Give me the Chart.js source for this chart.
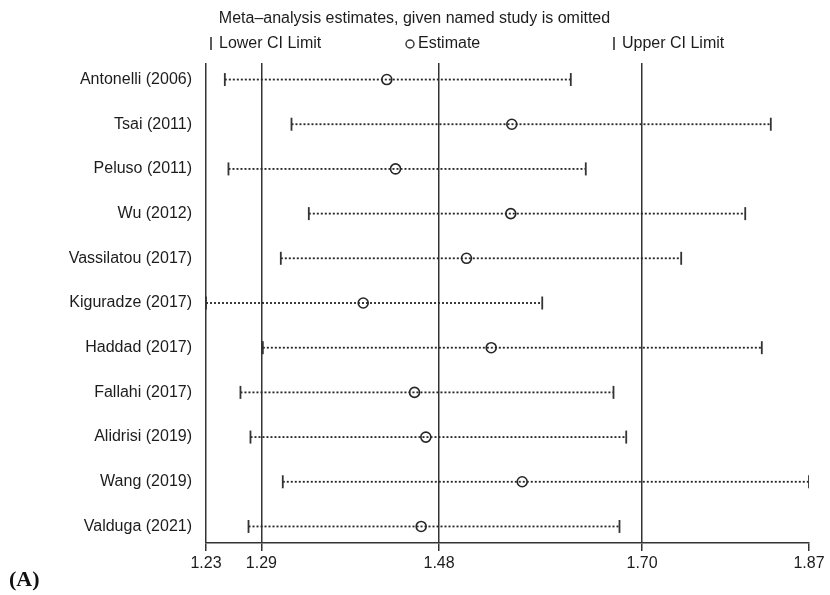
<!DOCTYPE html>
<html>
<head>
<meta charset="utf-8">
<script src="https://cdn.jsdelivr.net/npm/chart.js@4.4.1/dist/chart.umd.min.js"></script>
<style>
  html, body { margin: 0; padding: 0; background: #fff; }
  canvas { display: block; }
</style>
</head>
<body>
<canvas id="c" width="830" height="595"></canvas>
<script>
// Influence analysis: pooled estimate and CI when each study is left out
const studies = [
  'Antonelli (2006)', 'Tsai (2011)', 'Peluso (2011)', 'Wu (2012)',
  'Vassilatou (2017)', 'Kiguradze (2017)', 'Haddad (2017)', 'Fallahi (2017)',
  'Alidrisi (2019)', 'Wang (2019)', 'Valduga (2021)'
];
const lowerCI  = [1.2506, 1.3218, 1.2545, 1.3403, 1.3104, 1.2305, 1.2912, 1.2673, 1.2780, 1.3125, 1.2759];
const estimate = [1.4236, 1.5571, 1.4329, 1.5560, 1.5087, 1.3984, 1.5351, 1.4532, 1.4653, 1.5682, 1.4603];
const upperCI  = [1.6201, 1.8337, 1.6361, 1.8064, 1.7380, 1.5896, 1.8241, 1.6657, 1.6793, 1.8745, 1.6721];

// Axis ticks: smallest lower limit, overall lower limit, overall estimate,
// overall upper limit, largest upper limit
const tickValues = [1.2305, 1.2897, 1.4794, 1.6962, 1.8745];

const titleText = 'Meta\u2013analysis estimates, given named study is omitted';
const panelTag = '(A)';

const INK = '#1c1c1c';
const LINE = '#333333';
const FONT = 'Liberation Sans, Arial, sans-serif';

const ciDatasets = studies.map((s, i) => ({
  label: s,
  data: [{x: lowerCI[i], y: i}, {x: upperCI[i], y: i}],
  showLine: true,
  borderColor: '#262626',
  borderWidth: 1.8,
  borderDash: [2, 2],
  pointRadius: 0,
  order: 5
}));

const markDatasets = [
  {
    label: 'Lower CI Limit',
    data: lowerCI.map((v, i) => ({x: v, y: i})),
    pointStyle: 'line', rotation: 90, pointRadius: 6.5,
    borderColor: LINE, borderWidth: 1.8, order: 1
  },
  {
    label: 'Estimate',
    data: estimate.map((v, i) => ({x: v, y: i})),
    pointStyle: 'circle', pointRadius: 5,
    borderColor: '#262626', borderWidth: 1.6,
    backgroundColor: 'rgba(0,0,0,0)', order: 1
  },
  {
    label: 'Upper CI Limit',
    data: upperCI.map((v, i) => ({x: v, y: i})),
    pointStyle: 'line', rotation: 90, pointRadius: 6.5,
    borderColor: LINE, borderWidth: 1.8, order: 1
  }
];

// Title, symbol key and panel tag
const annotations = {
  id: 'annotations',
  afterDraw(chart) {
    const ctx = chart.ctx;
    ctx.save();
    ctx.fillStyle = INK;
    ctx.strokeStyle = LINE;
    ctx.font = '16px ' + FONT;
    ctx.textBaseline = 'middle';
    ctx.textAlign = 'center';
    ctx.fillText(titleText, 414.5, 19);

    const keyY = 44;
    const [lo, est, up] = markDatasets.map(d => d.label);
    ctx.textAlign = 'left';
    ctx.lineWidth = 1.6;
    // lower limit key
    ctx.beginPath(); ctx.moveTo(211, keyY - 7); ctx.lineTo(211, keyY + 6); ctx.stroke();
    ctx.fillText(lo, 219, keyY);
    // estimate key
    ctx.lineWidth = 1.4;
    ctx.beginPath(); ctx.arc(410, keyY, 4, 0, Math.PI * 2); ctx.stroke();
    ctx.fillText(est, 418, keyY);
    // upper limit key
    ctx.lineWidth = 1.6;
    ctx.beginPath(); ctx.moveTo(614, keyY - 7); ctx.lineTo(614, keyY + 6); ctx.stroke();
    ctx.fillText(up, 622, keyY);

    ctx.font = 'bold 22px Liberation Serif, Times New Roman, serif';
    ctx.fillStyle = '#111';
    ctx.fillText(panelTag, 9, 580);
    ctx.restore();
  }
};

new Chart(document.getElementById('c'), {
  type: 'scatter',
  data: { datasets: [...ciDatasets, ...markDatasets] },
  options: {
    responsive: false,
    animation: false,
    devicePixelRatio: 1,
    layout: { padding: { top: 63, right: 21, bottom: 0, left: 0 } },
    plugins: {
      legend: { display: false },
      tooltip: { enabled: false },
      title: { display: false }
    },
    scales: {
      x: {
        type: 'linear',
        min: tickValues[0],
        max: tickValues[tickValues.length - 1],
        afterBuildTicks: s => { s.ticks = tickValues.map(v => ({value: v})); },
        afterFit: s => { s.height = 52; },
        ticks: {
          autoSkip: false, maxRotation: 0, padding: 3,
          color: INK, font: { family: FONT, size: 16 },
          callback: v => Number(v).toFixed(2)
        },
        grid: {
          color: c => (c.index === tickValues.length - 1 ? 'rgba(0,0,0,0)' : LINE),
          tickColor: LINE,
          lineWidth: 1.5,
          tickLength: 8
        },
        border: { display: true, color: LINE, width: 1.5 }
      },
      y: {
        type: 'linear',
        reverse: true,
        min: -0.37,
        max: 10.37,
        afterBuildTicks: s => { s.ticks = studies.map((_, i) => ({value: i})); },
        afterFit: s => { s.width = 206; },
        ticks: {
          autoSkip: false, padding: 14,
          color: INK, font: { family: FONT, size: 16 },
          callback: v => studies[v]
        },
        grid: { display: false, drawTicks: false },
        border: { display: false }
      }
    }
  },
  plugins: [annotations]
});
</script>
</body>
</html>
